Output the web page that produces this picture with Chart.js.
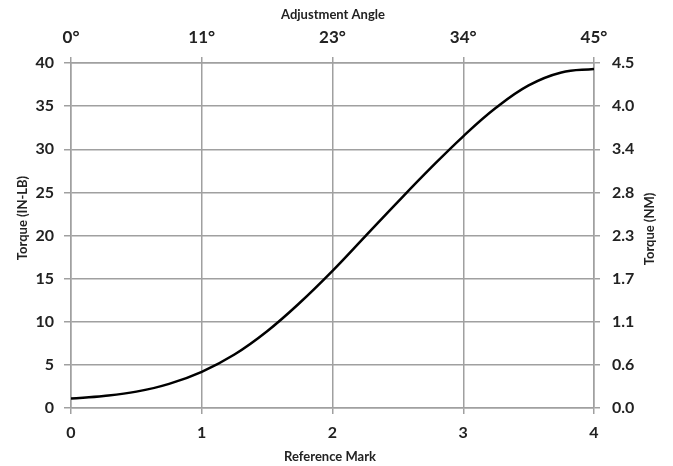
<!DOCTYPE html>
<html lang="en">
<head>
    <meta charset="UTF-8">
    <title>Torque vs Reference Mark</title>
    <script src="https://cdn.jsdelivr.net/npm/chart.js"></script>
    <style>
        html, body { margin: 0; padding: 0; background: #fff; }
        #wrap { width: 673px; height: 466px; }
    </style>
</head>
<body>
    <div id="wrap"><canvas id="torqueChart" width="673" height="466"></canvas></div>

    <script>
        // values
        const refMarks   = [0, 0.25, 0.5, 0.75, 1, 1.25, 1.5, 1.75, 2, 2.25, 2.5, 2.75, 3, 3.25, 3.5, 3.75, 4];
        const torqueInLb = [1.1, 1.4, 1.9, 2.8, 4.2, 6.2, 8.9, 12.2, 15.9, 19.9, 23.9, 27.8, 31.5, 34.8, 37.4, 38.9, 39.3];
        const angleLabels = ["0°", "11°", "23°", "34°", "45°"];
        const nmLabels = ["0.0", "0.6", "1.1", "1.7", "2.3", "2.8", "3.4", "4.0", "4.5"];

        const gridGray = "#a0a0a0";
        const textColor = "#222";
        const tickFont = { family: "Lato", size: 16, weight: "bold" };

        // axis titles drawn by hand so the right one reads bottom-to-top
        function drawTitle(c, text, x, y, rotated) {
            c.save();
            c.fillStyle = textColor;
            c.font = "bold 13px Lato";
            c.textAlign = "center";
            c.textBaseline = "middle";
            c.translate(x, y);
            if (rotated) c.rotate(-Math.PI / 2);
            c.fillText(text, 0, 0);
            c.restore();
        }

        const axisTitles = {
            id: "axisTitles",
            afterDraw(chart) {
                const c = chart.ctx;
                drawTitle(c, "Adjustment Angle", 333, 15, false);
                drawTitle(c, "Reference Mark", 330, 457, false);
                drawTitle(c, "Torque (IN-LB)", 23, 218, true);
                drawTitle(c, "Torque (NM)", 650, 229, true);
            }
        };

        const ctx = document.getElementById("torqueChart").getContext("2d");
        const torqueChart = new Chart(ctx, {
            type: "scatter",
            data: {
                datasets: [{
                    data: refMarks.map((x, i) => ({ x: x, y: torqueInLb[i] })),
                    showLine: true,
                    borderColor: "#000",
                    borderWidth: 2.5,
                    pointRadius: 0,
                    tension: 0.4,
                    xAxisID: "x",
                    yAxisID: "y"
                }]
            },
            plugins: [axisTitles],
            options: {
                responsive: false,
                animation: false,
                layout: { padding: 0 },
                plugins: { legend: { display: false }, tooltip: { enabled: false } },
                scales: {
                    x: {
                        type: "linear", position: "bottom", min: 0, max: 4,
                        afterFit: s => { s.height = 58; },
                        ticks: { stepSize: 1, font: tickFont, color: textColor, padding: 9, maxRotation: 0 },
                        grid: { color: gridGray, lineWidth: 1.5, tickLength: 6 },
                        border: { color: gridGray, width: 1.5 }
                    },
                    x2: {
                        type: "linear", position: "top", min: 0, max: 4,
                        afterFit: s => { s.height = 63; },
                        ticks: { stepSize: 1, font: { family: "Lato", size: 17, weight: "bold" }, color: textColor,
                                 padding: 9, maxRotation: 0, callback: v => angleLabels[v] },
                        grid: { drawOnChartArea: false, color: gridGray, lineWidth: 1.5, tickLength: 6 },
                        border: { color: gridGray, width: 1.5 }
                    },
                    y: {
                        type: "linear", position: "left", min: 0, max: 40,
                        afterFit: s => { s.width = 71; },
                        ticks: { stepSize: 5, font: tickFont, color: textColor, padding: 10 },
                        grid: { color: gridGray, lineWidth: 1.5, tickLength: 7 },
                        border: { color: gridGray, width: 1.5 }
                    },
                    y2: {
                        type: "linear", position: "right", min: 0, max: 40,
                        afterFit: s => { s.width = 79; },
                        ticks: { stepSize: 5, font: tickFont, color: textColor, padding: 12,
                                 callback: v => nmLabels[v / 5] },
                        grid: { drawOnChartArea: false, color: gridGray, lineWidth: 1.5, tickLength: 6 },
                        border: { color: gridGray, width: 1.5 }
                    }
                }
            }
        });
    </script>
</body>
</html>
